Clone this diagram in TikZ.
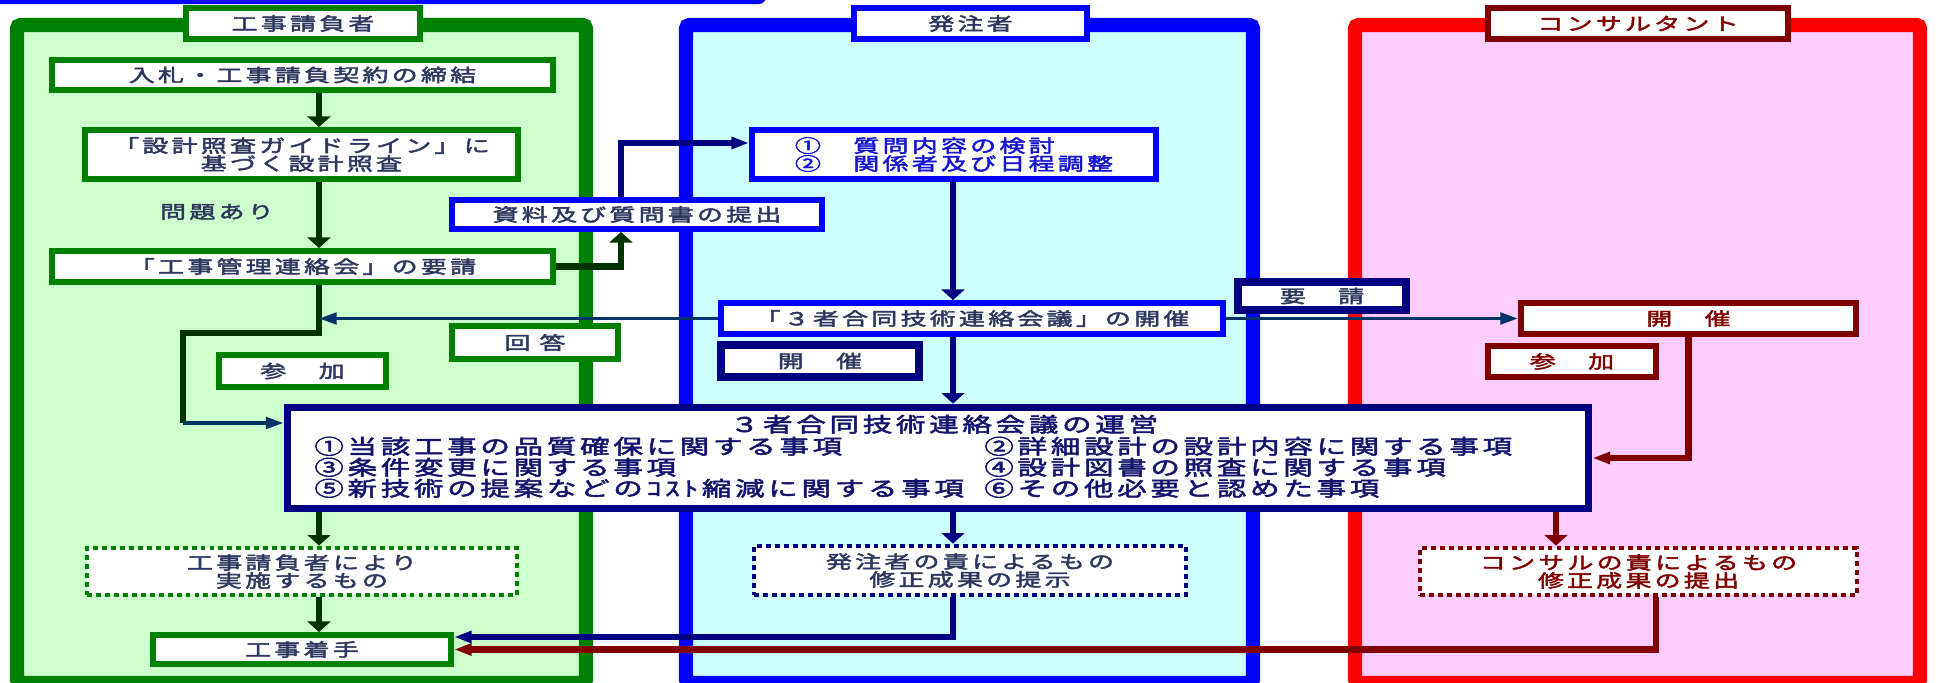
\documentclass[tikz,border=0pt]{standalone}
\usepackage{fontspec}
\usetikzlibrary{arrows.meta}

\newfontfamily\jp[FakeStretch=1.45,LetterSpace=18,FakeBold=2.5]{Noto Sans CJK JP}
\newcommand{\jpn}{\jp\fontsize{10.2}{10.2}\selectfont}
\newcommand{\jpl}{\jp\fontsize{11.6}{12}\selectfont}

\definecolor{grnline}{RGB}{0,128,0}
\definecolor{grnfill}{RGB}{204,255,204}
\definecolor{grnarr}{RGB}{0,51,0}
\definecolor{bluline}{RGB}{0,0,255}
\definecolor{blufill}{RGB}{204,255,255}
\definecolor{blutxt}{RGB}{20,20,210}
\definecolor{navyline}{RGB}{0,0,128}
\definecolor{navytxt}{RGB}{20,20,110}
\definecolor{thinarr}{RGB}{0,51,102}
\definecolor{redline}{RGB}{255,0,0}
\definecolor{pinkfill}{RGB}{255,204,255}
\definecolor{marline}{RGB}{128,0,0}
\definecolor{txtc}{RGB}{45,55,95}

\begin{document}
\begin{tikzpicture}[x=0.02cm,y=-0.02cm]

\def\px{0.02cm}

\tikzstyle{panel} = [draw,line width=8pt,rounded corners=2pt];
\tikzstyle{hbox} = [draw,line width=3.4pt,fill=white,font=\jpn,text=txtc];
\tikzstyle{gbox} = [draw=grnline,line width=3.4pt,fill=white,font=\jpn,text=txtc];
\tikzstyle{bbox} = [draw=bluline,line width=3.4pt,fill=white,font=\jpn,text=txtc];
\tikzstyle{nbox} = [draw=navyline,line width=4.5pt,fill=white,font=\jpn,text=txtc];
\tikzstyle{mbox} = [draw=marline,line width=3.4pt,fill=white,font=\jpn,text=marline];
\tikzstyle{dbox} = [line width=2.8pt,dash pattern=on 2.8pt off 2.3pt,fill=white,font=\jpn];
\tikzstyle{mtxt} = [anchor=base west,inner sep=0pt,font=\jpl,text=navytxt];
\tikzstyle{gthk} = [draw=grnarr,line width=3.5pt];
\tikzstyle{nthk} = [draw=navyline,line width=3.5pt];
\tikzstyle{mthk} = [draw=marline,line width=3.5pt];
\tikzstyle{nthin} = [draw=thinarr,line width=2pt];
\tikzstyle{varr} = [-{Triangle[length=6pt,width=13pt]}];
\tikzstyle{harr} = [-{Triangle[length=10pt,width=6.5pt]}];

\useasboundingbox (0,0) rectangle (1938,683);

% cut title box
\fill [bluline,rounded corners=4pt] (-10,-40) rectangle (766,4);

% panels
\node [panel,draw=grnline,fill=grnfill,minimum width=569*\px,minimum height=658*\px] (gpanel) at (301.5,354) {};
\node [panel,draw=bluline,fill=blufill,minimum width=567*\px,minimum height=658*\px] (bpanel) at (969.5,354) {};
\node [panel,draw=redline,fill=pinkfill,minimum width=565*\px,minimum height=658*\px] (rpanel) at (1637.5,354) {};

\node [hbox,draw=grnline,minimum width=234*\px,minimum height=31*\px] (ghead) at (303,23.5) {工事請負者};
\node [hbox,draw=bluline,minimum width=233*\px,minimum height=31*\px] (bhead) at (970.5,23.5) {発注者};
\node [hbox,draw=marline,text=marline,minimum width=300*\px,minimum height=31*\px] (rhead) at (1638,23.5) {コンサルタント};

% contractor
\node [gbox,minimum width=501*\px,minimum height=30*\px] (contract) at (302.5,75) {入札・工事請負契約の締結};
\node [gbox,align=center,minimum width=433*\px,minimum height=49*\px] (check) at (301.5,154.5) {「設計照査ガイドライン」に\\基づく設計照査};
\node [font=\jpn,text=txtc] (issue) at (217,212) {問題あり};
\node [gbox,minimum width=501*\px,minimum height=31*\px] (request) at (302.5,266.5) {「工事管理連絡会」の要請};
\node [gbox,minimum width=166*\px,minimum height=33*\px] (answer) at (535,342.5) {回\enspace 答};
\node [gbox,minimum width=167*\px,minimum height=32*\px] (gjoin) at (302.5,371) {参　加};
\node [dbox,draw=grnline,text=txtc,align=center,minimum width=430*\px,minimum height=47*\px] (gfix) at (302,571.5) {工事請負者により\\実施するもの};
\node [gbox,minimum width=298*\px,minimum height=29*\px] (start) at (302,649.5) {工事着手};

% client
\node [bbox,minimum width=370*\px,minimum height=29*\px] (submit) at (637,214.5) {資料及び質問書の提出};
\node [bbox,text=blutxt,align=left,minimum width=404*\px,minimum height=49*\px] (study) at (954,154.5) {①　質問内容の検討\\②　関係者及び日程調整};
\node [bbox,minimum width=502*\px,minimum height=31*\px] (hold) at (972,318.5) {「３者合同技術連絡会議」の開催};
\node [nbox,minimum width=198*\px,minimum height=32*\px] (bopen) at (820,361) {開　催};
\node [nbox,minimum width=168*\px,minimum height=28*\px] (ask) at (1322,296) {要　請};
\node [dbox,draw=navyline,text=txtc,align=center,minimum width=432*\px,minimum height=49*\px] (bfix) at (970,570.5) {発注者の責によるもの\\修正成果の提示};

% consultant
\node [mbox,minimum width=335*\px,minimum height=31*\px] (ropen) at (1688.5,318.5) {開　催};
\node [mbox,minimum width=168*\px,minimum height=31*\px] (rjoin) at (1572,361.5) {参　加};
\node [dbox,draw=marline,text=marline,align=center,minimum width=437*\px,minimum height=47*\px] (rfix) at (1638.5,571.5) {コンサルの責によるもの\\修正成果の提出};

% joint meeting
\node [nbox,minimum width=1301*\px,minimum height=101*\px] (meet) at (938,458) {};
\node [mtxt,anchor=base] (meett) at (944,432) {３者合同技術連絡会議の運営};
\node [mtxt] (meet1) at (314,454) {①当該工事の品質確保に関する事項};
\node [mtxt] (meet3) at ([yshift=-0.42cm]meet1.base west) {③条件変更に関する事項};
\node [mtxt] (meet5) at ([yshift=-0.42cm]meet3.base west) {⑤新技術の提案などのｺｽﾄ縮減に関する事項};
\node [mtxt] (meet2) at (984,454) {②詳細設計の設計内容に関する事項};
\node [mtxt] (meet4) at ([yshift=-0.42cm]meet2.base west) {④設計図書の照査に関する事項};
\node [mtxt] (meet6) at ([yshift=-0.42cm]meet4.base west) {⑥その他必要と認めた事項};

\coordinate (gx) at (319,0);
\coordinate (rx) at (621,0);
\coordinate (bx) at (953,0);
\coordinate (mx) at (1556,0);
\coordinate (cx) at (1656,0);
\coordinate (bend1) at (183,333);
\coordinate (jn) at (183,423);
\coordinate (bend2) at (621,143);

\draw [gthk,varr] (contract.south -| gx) -- (check.north -| gx);
\draw [gthk,varr] (check.south -| gx) -- (request.north -| gx);
\draw [gthk] (request.south -| gx) |- (bend1) -- (jn);
\draw [nthin,harr] (jn) -- (jn -| meet.west);
\draw [nthin,harr] (hold.west) -- (hold.west -| gx);
\draw [gthk,varr] (request.east) -| (submit.south -| rx);
\draw [nthk,harr] (submit.north -| rx) |- (study.west |- bend2);
\draw [nthk,varr] (study.south -| bx) -- (hold.north -| bx);
\draw [nthk,varr] (hold.south -| bx) -- (meet.north -| bx);
\draw [nthin,harr] (hold.east) -- (ropen.west);
\draw [mthk,harr] (ropen.south) |- (meet.east);

\draw [gthk,varr] (meet.south -| gx) -- (gfix.north -| gx);
\draw [nthk,varr] (meet.south -| bx) -- (bfix.north -| bx);
\draw [mthk,varr] (meet.south -| mx) -- (rfix.north -| mx);
\draw [gthk,varr] (gfix.south -| gx) -- (start.north -| gx);
\draw [nthk,harr] (bfix.south -| bx) |- ([yshift=0.25cm]start.east);
\draw [mthk,harr] (rfix.south -| cx) |- (start.east);

\end{tikzpicture}
\end{document}
